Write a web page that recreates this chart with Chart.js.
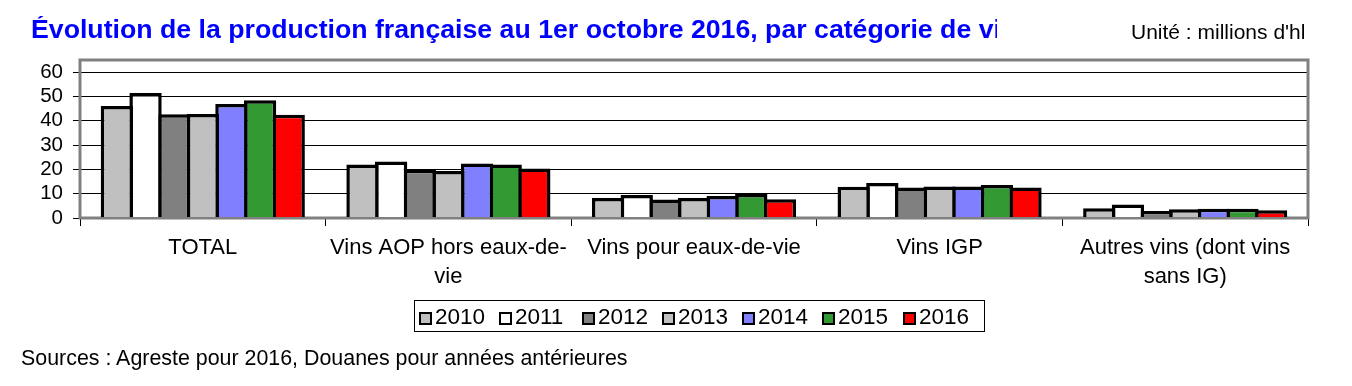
<!DOCTYPE html>
<html>
<head>
<meta charset="utf-8">
<script src="https://cdn.jsdelivr.net/npm/chart.js@4/dist/chart.umd.min.js"></script>
<style>
    body { margin: 0; background: #fff; font-family: 'Liberation Sans', Arial, sans-serif; }
    #page { position: relative; width: 1352px; height: 386px; overflow: hidden; }
    #wrap { position: absolute; left: 0; top: 0; width: 1352px; height: 386px; }
    .txt { position: absolute; white-space: nowrap; line-height: 1; }
    #titre { left: 31px; top: 16px; width: 966px; overflow: hidden; font-size: 26.7px; font-weight: bold; color: #0000ff; }
    #unite { left: 1131px; top: 21px; font-size: 21px; color: #000; }
    #sources { left: 21px; top: 348px; font-size: 21.4px; color: #000; }
    #legende { position: absolute; left: 414px; top: 300px; width: 571px; height: 32px; border: 1px solid #000; box-sizing: border-box; }
    #legende .item { position: absolute; top: 4px; font-size: 22.5px; line-height: 22px; }
    #legende .box { position: absolute; left: 0; top: 7px; width: 13px; height: 13px; border: 2px solid #000; box-sizing: border-box; }
    #legende .lbl { position: absolute; left: 16px; top: 1px; }
</style>
</head>
<body>
<div id="page">
    <div id="wrap"><canvas id="graphe"></canvas></div>
    <div class="txt" id="titre">Évolution de la production française au 1er octobre 2016, par catégorie de vins</div>
    <div class="txt" id="unite">Unité : millions d'hl</div>
    <div id="legende"></div>
    <div class="txt" id="sources">Sources : Agreste pour 2016, Douanes pour années antérieures</div>
</div>
<script>
const categories = [
    'TOTAL',
    ['Vins AOP hors eaux-de-', 'vie'],
    'Vins pour eaux-de-vie',
    'Vins IGP',
    ['Autres vins (dont vins', 'sans IG)'],
];

const annees = ['2010', '2011', '2012', '2013', '2014', '2015', '2016'];

const v2010 = [46.1, 22.0, 8.2, 12.9, 4.0];
const v2011 = [51.4, 23.2, 9.5, 14.4, 5.6];
const v2012 = [42.7, 19.8, 7.6, 12.5, 2.9];
const v2013 = [42.8, 19.3, 8.2, 13.0, 3.6];
const v2014 = [46.9, 22.4, 9.0, 13.0, 3.8];
const v2015 = [48.4, 22.0, 9.9, 13.6, 3.8];
const v2016 = [42.5, 20.4, 7.7, 12.5, 3.2];

const valeurs = [v2010, v2011, v2012, v2013, v2014, v2015, v2016];
const couleurs = ['#c0c0c0', '#ffffff', '#808080', '#c0c0c0', '#8080ff', '#339933', '#ff0000'];

const yTicks = [0, 10, 20, 30, 40, 50, 60];

const police = 'Liberation Sans';

const datasets = annees.map((a, i) => ({
    label: a,
    data: valeurs[i],
    backgroundColor: couleurs[i],
    borderColor: '#000',
    borderWidth: 3.5,
    borderSkipped: 'bottom',
    barPercentage: 1.13,
    categoryPercentage: 0.816
}));

// cadre gris autour de la zone du graphe
const cadre = {
    id: 'cadre',
    beforeDatasetsDraw(chart) {
        const a = chart.chartArea;
        const ctx = chart.ctx;
        ctx.save();
        ctx.strokeStyle = '#808080';
        ctx.lineWidth = 3;
        ctx.strokeRect(a.left, a.top, a.right - a.left, a.bottom - a.top);
        ctx.restore();
    },
    afterDatasetsDraw(chart) {
        // axe horizontal gris par-dessus le pied des barres
        const a = chart.chartArea;
        const ctx = chart.ctx;
        ctx.save();
        ctx.strokeStyle = '#808080';
        ctx.lineWidth = 2;
        ctx.beginPath();
        ctx.moveTo(a.left, a.bottom);
        ctx.lineTo(a.right, a.bottom);
        ctx.stroke();
        ctx.restore();
    }
};

const config = {
    type: 'bar',
    data: {
        labels: categories,
        datasets: datasets
    },
    options: {
        responsive: true,
        maintainAspectRatio: false,
        animation: false,
        layout: {
            padding: { top: 60, right: 44, left: 0, bottom: 0 }
        },
        plugins: {
            legend: { display: false },
            tooltip: { enabled: false }
        },
        scales: {
            x: {
                grid: {
                    offset: true,
                    drawOnChartArea: false,
                    color: '#000',
                    tickLength: 8
                },
                border: { display: false },
                ticks: {
                    color: '#000',
                    font: { family: police, size: 22, lineHeight: 1.3 },
                    maxRotation: 0,
                    autoSkip: false,
                    padding: 8
                },
                afterFit(scale) { scale.height = 168; }
            },
            y: {
                min: 0,
                max: 65,
                grid: {
                    color: '#000',
                    tickLength: 7
                },
                border: { display: false },
                ticks: {
                    color: '#000',
                    font: { family: police, size: 20.5 },
                    padding: 10,
                    autoSkip: false
                },
                afterBuildTicks(scale) {
                    scale.ticks = yTicks.map(v => ({ value: v }));
                },
                afterFit(scale) { scale.width = 80; }
            }
        }
    },
    plugins: [cadre]
};

const graphe = new Chart(document.getElementById('graphe'), config);

// legende html
const leg = document.getElementById('legende');
const pas = [4, 84, 167, 247, 327, 407, 488];
annees.forEach((a, i) => {
    const it = document.createElement('div');
    it.className = 'item';
    it.style.left = pas[i] + 'px';
    it.innerHTML = '<span class="box" style="background:' + couleurs[i] + '"></span><span class="lbl">' + a + '</span>';
    leg.appendChild(it);
});
</script>
</body>
</html>
